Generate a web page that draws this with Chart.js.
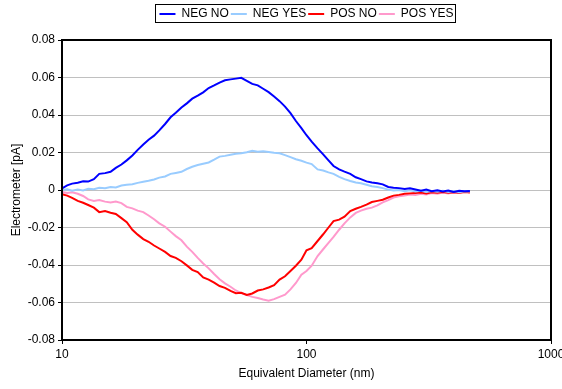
<!DOCTYPE html>
<html>
<head>
<meta charset="utf-8">
<script src="https://cdn.jsdelivr.net/npm/chart.js@4.4.1/dist/chart.umd.min.js"></script>
<style>
  html, body { margin: 0; padding: 0; background: #fff; }
</style>
</head>
<body>
<canvas id="grafico" width="562" height="389"></canvas>
<script>
// diametro equivalente (nm)
const diametro = [10, 10.5, 11, 11.6, 12.2, 12.8, 13.5, 14.2, 15, 15.8, 16.6, 17.5, 18.4, 19.4, 20.4, 21.5,
  22.6, 23.8, 25, 26.4, 27.8, 29.2, 30.8, 32.4, 34.1, 35.9, 37.8, 39.8, 41.9, 44.1, 46.4, 48.9, 51.4, 54.1,
  57, 60, 63.2, 66.5, 70, 73.7, 77.6, 81.7, 86, 90.5, 95.3, 100, 105, 111, 117, 123, 129, 136, 143, 151,
  159, 167, 176, 185, 195, 205, 216, 227, 239, 252, 265, 279, 294, 309, 325, 343, 361, 380, 400, 421, 443, 466];

// corrente no eletrometro (pA)
const negNo = [0.0008, 0.0025, 0.0034, 0.0039, 0.0047, 0.0045, 0.0058, 0.0086, 0.0090, 0.0097, 0.0118, 0.0136,
  0.0158, 0.0184, 0.0214, 0.0243, 0.0268, 0.0290, 0.0318, 0.0352, 0.0388, 0.0412, 0.0440, 0.0462, 0.0487, 0.0503,
  0.0521, 0.0544, 0.0558, 0.0573, 0.0585, 0.0590, 0.0594, 0.0598, 0.0582, 0.0566, 0.0558, 0.0540, 0.0522, 0.0499,
  0.0474, 0.0445, 0.0410, 0.0368, 0.0330, 0.0292, 0.0258, 0.0222, 0.0190, 0.0158, 0.0128, 0.0110, 0.0098, 0.0086,
  0.0068, 0.0058, 0.0046, 0.0040, 0.0036, 0.0030, 0.0016, 0.0012, 0.0010, 0.0006, 0.0009, 0.0003, -0.0004, 0.0002,
  -0.0006, -0.0002, -0.0008, -0.0003, -0.0010, -0.0004, -0.0006, -0.0005];

const negYes = [0.0000, 0.0004, -0.0004, 0.0002, -0.0002, 0.0006, 0.0004, 0.0012, 0.0010, 0.0016, 0.0014, 0.0024,
  0.0028, 0.0031, 0.0038, 0.0044, 0.0049, 0.0056, 0.0066, 0.0072, 0.0086, 0.0091, 0.0097, 0.0112, 0.0124, 0.0133,
  0.0140, 0.0147, 0.0162, 0.0178, 0.0182, 0.0188, 0.0193, 0.0196, 0.0201, 0.0209, 0.0204, 0.0207, 0.0203, 0.0199,
  0.0196, 0.0186, 0.0175, 0.0164, 0.0156, 0.0146, 0.0138, 0.0110, 0.0104, 0.0094, 0.0086, 0.0070, 0.0058, 0.0048,
  0.0040, 0.0036, 0.0028, 0.0020, 0.0016, 0.0010, 0.0002, -0.0002, 0.0000, -0.0006, -0.0002, -0.0008, -0.0004,
  -0.0010, -0.0005, -0.0009, -0.0004, -0.0010, -0.0006, -0.0012, -0.0007, -0.0008];

const posNo = [-0.0022, -0.0030, -0.0042, -0.0058, -0.0068, -0.0080, -0.0094, -0.0118, -0.0112, -0.0121, -0.0128,
  -0.0150, -0.0172, -0.0212, -0.0238, -0.0262, -0.0276, -0.0296, -0.0312, -0.0330, -0.0352, -0.0362, -0.0380,
  -0.0402, -0.0426, -0.0438, -0.0466, -0.0478, -0.0494, -0.0512, -0.0522, -0.0538, -0.0550, -0.0548, -0.0560,
  -0.0552, -0.0536, -0.0530, -0.0520, -0.0508, -0.0478, -0.0460, -0.0432, -0.0404, -0.0372, -0.0322, -0.0310,
  -0.0272, -0.0236, -0.0200, -0.0166, -0.0158, -0.0142, -0.0112, -0.0100, -0.0090, -0.0078, -0.0064, -0.0058,
  -0.0052, -0.0040, -0.0030, -0.0026, -0.0020, -0.0018, -0.0016, -0.0014, -0.0018, -0.0012, -0.0015, -0.0011,
  -0.0014, -0.0012, -0.0015, -0.0011, -0.0013];

const posYes = [-0.0010, -0.0016, -0.0012, -0.0020, -0.0032, -0.0050, -0.0058, -0.0054, -0.0062, -0.0066, -0.0062,
  -0.0070, -0.0090, -0.0098, -0.0110, -0.0118, -0.0136, -0.0156, -0.0178, -0.0196, -0.0222, -0.0246, -0.0268,
  -0.0302, -0.0330, -0.0362, -0.0392, -0.0418, -0.0448, -0.0476, -0.0498, -0.0516, -0.0536, -0.0550, -0.0560,
  -0.0570, -0.0576, -0.0584, -0.0590, -0.0582, -0.0570, -0.0558, -0.0530, -0.0496, -0.0452, -0.0432, -0.0404,
  -0.0352, -0.0316, -0.0282, -0.0250, -0.0212, -0.0178, -0.0146, -0.0122, -0.0110, -0.0100, -0.0094, -0.0082,
  -0.0066, -0.0054, -0.0040, -0.0034, -0.0030, -0.0024, -0.0026, -0.0020, -0.0024, -0.0016, -0.0020, -0.0014,
  -0.0018, -0.0012, -0.0016, -0.0010, -0.0012];

const series = ['NEG NO', 'NEG YES', 'POS NO', 'POS YES'];
const cores = ['#0000ff', '#99ccff', '#ff0000', '#ff99cc'];
const ticksX = [10, 100, 1000];
const ticksY = [-0.08, -0.06, -0.04, -0.02, 0, 0.02, 0.04, 0.06, 0.08];

const valores = [negNo, negYes, posNo, posYes];
const fonte = { family: 'Arial, "Liberation Sans", sans-serif', size: 12 };
const topoLegenda = 6;

// legenda centrada sobre a area do grafico, com moldura; borda preta em volta do grafico
const moldura = {
  id: 'moldura',
  beforeDraw(chart) {
    const lg = chart.legend;
    const a = chart.chartArea;
    const dx = ((a.left + a.right) - (lg.left + lg.right)) / 2;
    const dy = topoLegenda - lg.top;
    if (dx !== 0 || dy !== 0) {
      lg.left += dx;
      lg.right += dx;
      lg.top += dy;
      lg.bottom += dy;
      lg.legendHitBoxes.forEach(h => { h.left += dx; h.top += dy; });
    }
  },
  afterDraw(chart) {
    const c = chart.ctx;
    const a = chart.chartArea;
    c.save();
    c.strokeStyle = '#000';
    c.lineWidth = 2;
    c.strokeRect(a.left, a.top, a.right - a.left, a.bottom - a.top);
    const caixas = chart.legend.legendHitBoxes;
    if (caixas && caixas.length) {
      const ini = caixas[0];
      const fim = caixas[caixas.length - 1];
      c.lineWidth = 1;
      c.strokeRect(Math.round(ini.left) - 3.5, Math.round(ini.top) - 3.5,
        Math.round(fim.left + fim.width - ini.left) + 6, ini.height + 6);
    }
    c.restore();
  }
};

new Chart(document.getElementById('grafico'), {
  type: 'line',
  data: {
    datasets: series.map((nome, i) => ({
      label: nome,
      data: diametro.map((d, k) => ({ x: d, y: valores[i][k] })),
      borderColor: cores[i],
      backgroundColor: cores[i],
      borderWidth: 2,
      pointRadius: 0,
      tension: 0,
      fill: false
    }))
  },
  options: {
    responsive: false,
    animation: false,
    layout: { padding: { top: topoLegenda, right: 11, left: 0, bottom: 0 } },
    plugins: {
      legend: {
        position: 'top',
        labels: {
          color: '#000',
          font: fonte,
          usePointStyle: true,
          pointStyle: 'line',
          pointStyleWidth: 16,
          padding: 2,
          boxHeight: 12
        }
      },
      tooltip: { enabled: false }
    },
    scales: {
      x: {
        type: 'logarithmic',
        min: 10,
        max: 1000,
        afterBuildTicks: s => { s.ticks = ticksX.map(v => ({ value: v })); },
        afterFit: s => { s.height = 49; s.paddingRight = 0; },
        ticks: {
          color: '#000',
          font: fonte,
          padding: 3,
          maxRotation: 0,
          callback: v => String(v)
        },
        grid: { drawOnChartArea: false, drawTicks: true, tickLength: 4, tickColor: '#000', tickWidth: 1 },
        border: { color: '#000', width: 2 },
        title: { display: true, text: 'Equivalent Diameter (nm)', color: '#000', font: fonte, padding: { top: 2, bottom: 8 } }
      },
      y: {
        min: -0.08,
        max: 0.08,
        afterBuildTicks: s => { s.ticks = ticksY.map(v => ({ value: v })); },
        afterFit: s => { s.width = 62; s.paddingTop = 40; },
        ticks: {
          color: '#000',
          font: fonte,
          padding: 3,
          callback: v => String(Math.round(v * 100) / 100)
        },
        grid: { color: '#c0c0c0', lineWidth: 1, tickLength: 4, tickColor: '#000' },
        border: { color: '#000', width: 2 },
        title: { display: true, text: 'Electrometer [pA]', color: '#000', font: fonte, padding: { top: 9, bottom: 0 } }
      }
    }
  },
  plugins: [moldura]
});
</script>
</body>
</html>
